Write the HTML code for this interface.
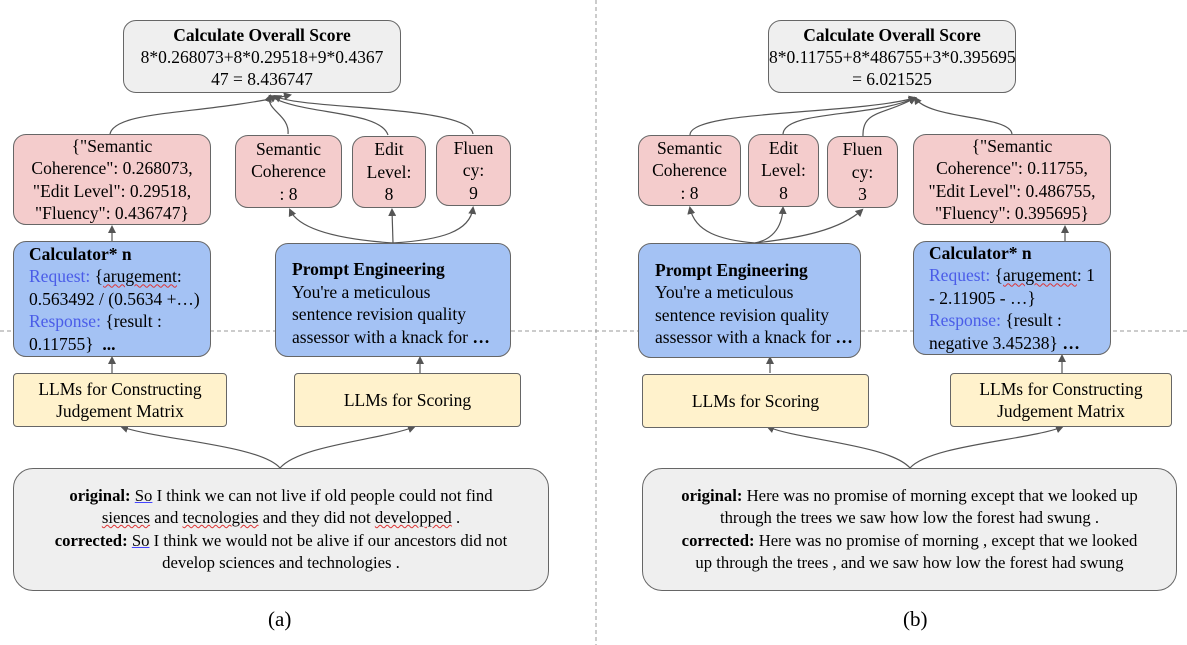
<!DOCTYPE html>
<html><head><meta charset="utf-8"><style>
body{margin:0;width:1187px;height:645px;background:#fff;position:relative;overflow:hidden;font-family:"Liberation Serif",serif;color:#000}
.b{position:absolute;box-sizing:border-box;border:1.3px solid #666;border-radius:13px;font-size:17.5px;line-height:22.5px;text-align:center;display:flex;flex-direction:column;justify-content:center;white-space:nowrap}
.g{background:#efefef}.p{background:#f4cccc}.u{background:#a4c2f4;text-align:left;padding-left:16px}.y{background:#fff2cc;border-radius:4px}
.bl{color:#4a5ce8}.w{text-decoration:underline wavy #d33;text-decoration-thickness:1px}
.lbl{position:absolute;font-size:21px}
svg{position:absolute;left:0;top:0}
</style></head><body>
<svg width="1187" height="645">
<defs><marker id="a" markerWidth="8" markerHeight="8" refX="6" refY="4" orient="auto" markerUnits="userSpaceOnUse"><path d="M0,0L8,4L0,8z" fill="#555"/></marker></defs>
<g stroke="#999" stroke-dasharray="4,3" fill="none"><line x1="0" y1="331" x2="1187" y2="331"/><line x1="596" y1="0" x2="596" y2="645"/></g>
<g stroke="#555" stroke-width="1.2" fill="none" marker-end="url(#a)">
<path d="M280,468 C260,445 160,440 122,427"/><path d="M280,468 C300,445 380,440 414,427"/>
<path d="M910,468 C890,445 800,440 768,427"/><path d="M910,468 C930,445 1030,440 1062,427"/>
<path d="M112,373 L112,358"/><path d="M420,373 L420,358"/><path d="M770,373 L770,358"/><path d="M1062,373 L1062,356"/>
<path d="M112,241 L112,227"/><path d="M1065,241 L1065,227"/>
<path d="M393,243 C350,240 300,232 290,210"/><path d="M393,243 L392,210"/><path d="M393,243 C440,240 470,232 473,208"/>
<path d="M755,243 C720,240 695,232 690,208"/><path d="M755,243 C770,240 782,230 783,208"/><path d="M755,243 C800,238 840,230 862,210"/>
<path d="M110,134 C115,110 200,115 290,95"/><path d="M288,134 C290,115 265,110 270,96"/><path d="M388,135 C380,110 300,115 270,96"/><path d="M473,134 C470,105 300,110 275,96"/>
<path d="M690,135 C690,110 850,115 915,98"/><path d="M783,134 C785,110 870,118 915,98"/><path d="M863,136 C862,110 885,115 915,98"/><path d="M1012,134 C1010,115 930,120 915,98"/>
</g>
</svg>
<div class="b g" style="left:123px;top:20px;width:278px;height:73px;line-height:22px"><b>Calculate Overall Score</b>8*0.268073+8*0.29518+9*0.4367<br>47 = 8.436747</div>
<div class="b p" style="left:13px;top:134px;width:198px;height:91px">{"Semantic<br>Coherence": 0.268073,<br>"Edit Level": 0.29518,<br>"Fluency": 0.436747}</div>
<div class="b p" style="left:235px;top:135px;width:107px;height:73px">Semantic<br>Coherence<br>: 8</div>
<div class="b p" style="left:352px;top:136px;width:74px;height:72px">Edit<br>Level:<br>8</div>
<div class="b p" style="left:436px;top:135px;width:75px;height:71px">Fluen<br>cy:<br>9</div>
<div class="b u" style="left:13px;top:241px;width:198px;height:116px;padding-left:15px"><div><b>Calculator* n</b><br><span class="bl">Request:</span> {<span class="w">arugement</span>:<br>0.563492 / (0.5634 +…)<br><span class="bl">Response:</span> {result :<br>0.11755}&nbsp; <b>...</b></div></div>
<div class="b u" style="left:275px;top:243px;width:236px;height:114px;padding-top:6px"><div><b>Prompt Engineering</b><br>You're a meticulous<br>sentence revision quality<br>assessor with a knack for <b>…</b></div></div>
<div class="b y" style="left:13px;top:373px;width:214px;height:54px">LLMs for Constructing<br>Judgement Matrix</div>
<div class="b y" style="left:294px;top:373px;width:227px;height:54px">LLMs for Scoring</div>
<div class="b g" style="left:13px;top:468px;width:536px;height:123px;border-radius:20px;font-size:16.7px"><div><b>original:</b> <u style="text-decoration-color:#44f">So</u> I think we can not live if old people could not find<br><span class="w">siences</span> and <span class="w">tecnologies</span> and they did not <span class="w">developped</span> .<br><b>corrected:</b> <u style="text-decoration-color:#44f">So</u> I think we would not be alive if our ancestors did not<br>develop sciences and technologies .</div></div>
<div class="lbl" style="left:268px;top:607px">(a)</div>

<div class="b g" style="left:768px;top:20px;width:248px;height:73px;line-height:22px"><b>Calculate Overall Score</b>8*0.11755+8*486755+3*0.395695<br>= 6.021525</div>
<div class="b p" style="left:638px;top:135px;width:103px;height:71px">Semantic<br>Coherence<br>: 8</div>
<div class="b p" style="left:748px;top:134px;width:71px;height:73px">Edit<br>Level:<br>8</div>
<div class="b p" style="left:827px;top:136px;width:71px;height:72px">Fluen<br>cy:<br>3</div>
<div class="b p" style="left:913px;top:134px;width:198px;height:91px">{"Semantic<br>Coherence": 0.11755,<br>"Edit Level": 0.486755,<br>"Fluency": 0.395695}</div>
<div class="b u" style="left:638px;top:243px;width:223px;height:115px;padding-top:6px"><div><b>Prompt Engineering</b><br>You're a meticulous<br>sentence revision quality<br>assessor with a knack for <b>…</b></div></div>
<div class="b u" style="left:913px;top:241px;width:198px;height:114px;padding-left:15px"><div><b>Calculator* n</b><br><span class="bl">Request:</span> {<span class="w">arugement</span>: 1<br>- 2.11905 - …}<br><span class="bl">Response:</span> {result :<br>negative 3.45238} <b>…</b></div></div>
<div class="b y" style="left:642px;top:374px;width:227px;height:54px">LLMs for Scoring</div>
<div class="b y" style="left:950px;top:373px;width:222px;height:54px">LLMs for Constructing<br>Judgement Matrix</div>
<div class="b g" style="left:642px;top:468px;width:535px;height:123px;border-radius:20px;font-size:16.7px"><div><b>original:</b> Here was no promise of morning except that we looked up<br>through the trees we saw how low the forest had swung .<br><b>corrected:</b> Here was no promise of morning , except that we looked<br>up through the trees , and we saw how low the forest had swung</div></div>
<div class="lbl" style="left:903px;top:607px">(b)</div>
</body></html>
